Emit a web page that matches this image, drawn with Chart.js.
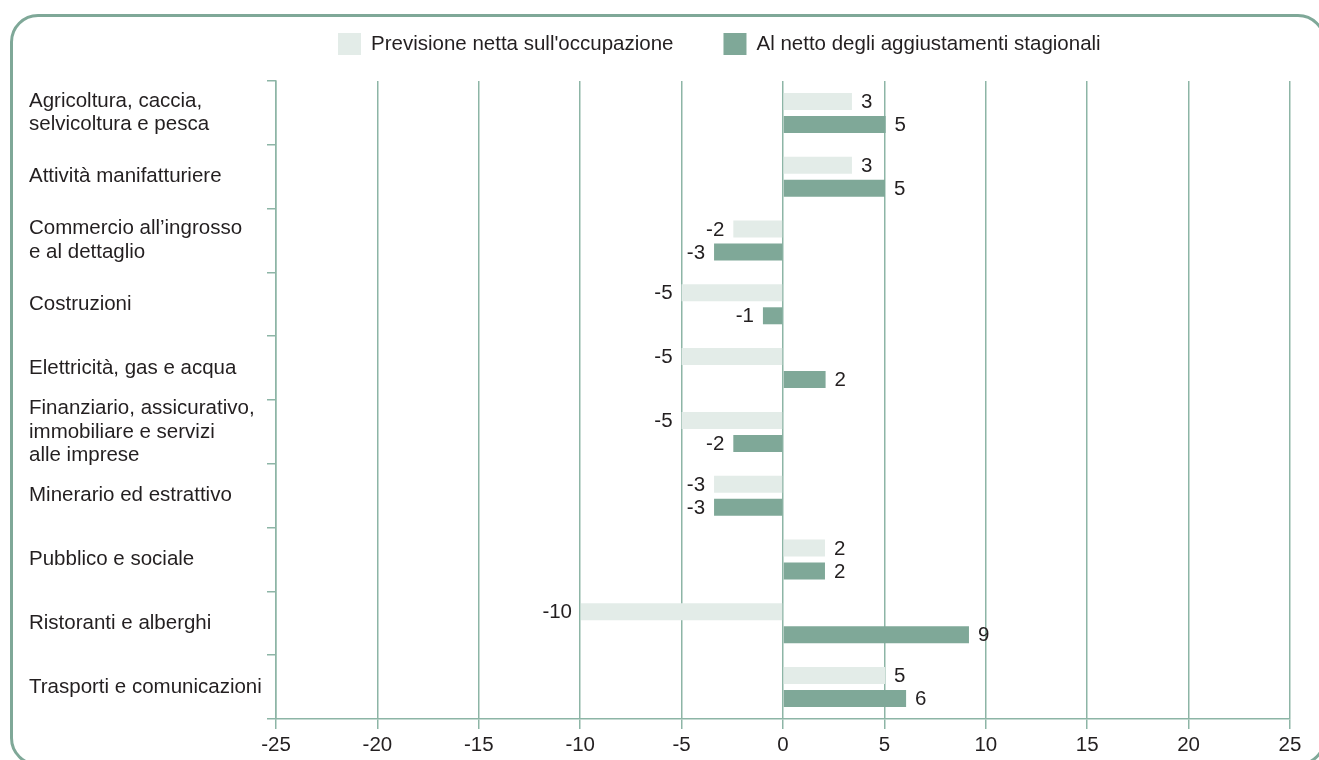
<!DOCTYPE html>
<html>
<head>
<meta charset="utf-8">
<script src="https://cdn.jsdelivr.net/npm/chart.js@4.4.1/dist/chart.umd.min.js"></script>
<style>
  html, body { margin: 0; padding: 0; background: #fff; overflow: hidden; }
  #wrap { position: relative; width: 1319px; height: 760px; overflow: hidden; }
  #frame {
    position: absolute; left: 10px; top: 14px; width: 1316px; height: 752px;
    box-sizing: border-box; border: 3px solid #7fa898; border-radius: 28px;
  }
  canvas { position: absolute; left: 0; top: 0; }
</style>
</head>
<body>
<div id="wrap">
  <div id="frame"></div>
  <canvas id="chart" width="1319" height="760"></canvas>
</div>
<script>
  // Sectors, top to bottom
  const SECTORS = [
    ["Agricoltura, caccia,", "selvicoltura e pesca"],
    "Attività manifatturiere",
    ["Commercio all’ingrosso", "e al dettaglio"],
    "Costruzioni",
    "Elettricità, gas e acqua",
    ["Finanziario, assicurativo,", "immobiliare e servizi", "alle imprese"],
    "Minerario ed estrattivo",
    "Pubblico e sociale",
    "Ristoranti e alberghi",
    "Trasporti e comunicazioni",
  ];
  // Bar lengths; printed labels are these rounded.
  const PREVISIONE = [3.4, 3.4, -2.45, -5, -5, -5, -3.4, 2.07, -9.96, 5.03];
  const NETTO = [5.06, 5.03, -3.4, -0.99, 2.1, -2.45, -3.4, 2.07, 9.17, 6.07];
  const SERIES_NAMES = ["Previsione netta sull'occupazione", "Al netto degli aggiustamenti stagionali"];
  const X_MIN = -25;
  const X_MAX = 25;
  const X_STEP = 5;

  const FONT = '"Liberation Sans", Arial, Helvetica, sans-serif';
  const FONT_SIZE = 20.5;
  const TEXT = "#231f20";
  const GRID = "#8db5a6";
  const LIGHT = "#e3ece8";
  const DARK = "#7fa898";

  // Legend drawn by hand so the gap between the two items can be wide.
  const topLegend = {
    id: "topLegend",
    afterDraw(chart, _args, opts) {
      const ctx = chart.ctx;
      ctx.save();
      ctx.font = `${FONT_SIZE}px ${FONT}`;
      ctx.textBaseline = "middle";
      ctx.textAlign = "left";
      let x = opts.x;
      chart.data.datasets.forEach((ds) => {
        ctx.fillStyle = ds.backgroundColor;
        ctx.fillRect(x, opts.y - 11, 23, 22);
        ctx.fillStyle = TEXT;
        ctx.fillText(ds.label, x + 33, opts.y);
        x += 33 + ctx.measureText(ds.label).width + 50;
      });
      ctx.restore();
    },
  };

  // Rounded value next to the end of each bar.
  const valueLabels = {
    id: "valueLabels",
    afterDatasetsDraw(chart) {
      const ctx = chart.ctx;
      ctx.save();
      ctx.font = `${FONT_SIZE}px ${FONT}`;
      ctx.fillStyle = TEXT;
      ctx.textBaseline = "middle";
      chart.data.datasets.forEach((ds, di) => {
        chart.getDatasetMeta(di).data.forEach((bar, i) => {
          const v = ds.data[i];
          const neg = v < 0;
          ctx.textAlign = neg ? "right" : "left";
          ctx.fillText(String(Math.round(v)), bar.x + (neg ? -9 : 9), bar.y + 1);
        });
      });
      ctx.restore();
    },
  };

  new Chart(document.getElementById("chart"), {
    type: "bar",
    data: {
      labels: SECTORS,
      datasets: [
        { label: SERIES_NAMES[0], data: PREVISIONE, backgroundColor: LIGHT },
        { label: SERIES_NAMES[1], data: NETTO, backgroundColor: DARK },
      ],
    },
    plugins: [topLegend, valueLabels],
    options: {
      indexAxis: "y",
      responsive: false,
      animation: false,
      categoryPercentage: 0.72,
      barPercentage: 0.74,
      layout: { padding: { left: 29, top: 81, right: 29, bottom: 0 } },
      plugins: {
        legend: { display: false },
        tooltip: { enabled: false },
        topLegend: { x: 338, y: 44 },
      },
      scales: {
        x: {
          min: X_MIN,
          max: X_MAX,
          ticks: {
            stepSize: X_STEP,
            color: TEXT,
            padding: 6,
            font: { family: FONT, size: FONT_SIZE, lineHeight: 1 },
          },
          grid: { color: GRID, lineWidth: 1.5, tickLength: 10 },
          border: { color: GRID, width: 1.5 },
          afterFit(scale) {
            scale.height = 41;
          },
        },
        y: {
          ticks: {
            autoSkip: false,
            crossAlign: "far",
            color: TEXT,
            padding: 5,
            font: { family: FONT, size: FONT_SIZE, lineHeight: 1.15 },
          },
          grid: { drawOnChartArea: false, offset: true, tickLength: 9, color: GRID, lineWidth: 1.5 },
          border: { color: GRID, width: 1.5 },
          afterFit(scale) {
            scale.width = 247;
          },
        },
      },
    },
  });
</script>
</body>
</html>
